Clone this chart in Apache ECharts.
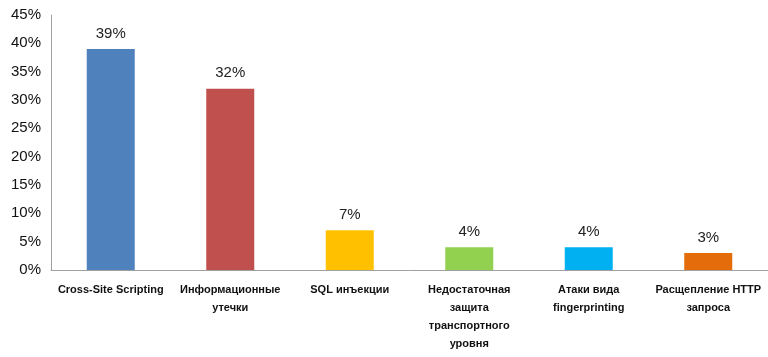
<!DOCTYPE html>
<html><head><meta charset="utf-8">
<script src="https://cdn.jsdelivr.net/npm/echarts@6/dist/echarts.min.js"></script>
<style>html,body{margin:0;padding:0;background:#fff}#c{width:768px;height:357px}</style>
</head><body><div id="c"></div>
<script>
const categories = ["Cross-Site Scripting", "Информационные\nутечки", "SQL инъекции", "Недостаточная\nзащита\nтранспортного\nуровня", "Атаки вида\nfingerprinting", "Расщепление HTTP\nзапроса"];
const values = [39, 32, 7, 4, 4, 3];
const colors = ["#4F81BD", "#C0504D", "#FFC000", "#92D050", "#00B0F0", "#E46C0A"];
const yTicks = {min: 0, max: 45, interval: 5};

const chart = echarts.init(document.getElementById('c'), null, {renderer: 'canvas'});
chart.setOption({
  animation: false,
  grid: {left: 51, top: 15, width: 720, height: 255, containLabel: false},
  xAxis: {
    type: 'category', data: categories,
    axisLine: {lineStyle: {color: '#A0A0A0', width: 1}},
    axisTick: {show: false},
    axisLabel: {interval: 0, margin: 11, color: '#111', fontFamily: 'Liberation Sans, sans-serif', fontWeight: 'bold', fontSize: 11, lineHeight: 18}
  },
  yAxis: {
    type: 'value', min: yTicks.min, max: yTicks.max, interval: yTicks.interval,
    axisLine: {show: true, lineStyle: {color: '#A0A0A0', width: 1}},
    axisTick: {show: false},
    splitLine: {show: false},
    axisLabel: {formatter: '{value}%', color: '#111', fontSize: 15, margin: 10, fontFamily: 'Liberation Sans, sans-serif'}
  },
  series: [{
    type: 'bar', barWidth: 48,
    data: values.map((v, i) => ({value: v, itemStyle: {color: colors[i]}})),
    label: {show: true, position: 'top', distance: 8, formatter: '{c}%', color: '#222', fontSize: 15, fontFamily: 'Liberation Sans, sans-serif'}
  }]
});
</script></body></html>
